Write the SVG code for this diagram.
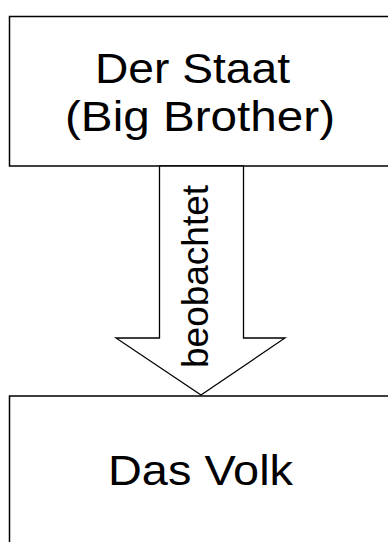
<svg xmlns="http://www.w3.org/2000/svg" width="388" height="542" viewBox="0 0 388 542">
<style>
.box{fill:#fff;stroke:#000;stroke-width:1.5}
.lbl{font-family:"Liberation Sans",Arial,sans-serif;font-size:42px;fill:#000}
.arr{fill:#fff;stroke:#000;stroke-width:1.3;stroke-linejoin:miter}
.al{font-family:"Liberation Sans",Arial,sans-serif;font-size:37px;fill:#000}
</style>
<rect width="388" height="542" fill="#fff"/>
<g id="staat">
<rect class="box" x="9.5" y="16.5" width="400" height="149.5"/>
<text class="lbl" x="95" y="82.5" textLength="195" lengthAdjust="spacingAndGlyphs">Der Staat</text>
<text class="lbl" x="65" y="131" textLength="270" lengthAdjust="spacingAndGlyphs">(Big Brother)</text>
</g>
<g id="volk">
<rect class="box" x="9.5" y="396" width="400" height="160"/>
<text class="lbl" x="108" y="485" textLength="185" lengthAdjust="spacingAndGlyphs">Das Volk</text>
</g>
<g id="connectors">
<polygon class="arr" points="159.5,166 159.5,338 116,338 201,395 285,338 243.5,338 243.5,166"/>
<text class="al" transform="translate(208,368) rotate(-90)" textLength="183" lengthAdjust="spacingAndGlyphs">beobachtet</text>
</g>
</svg>
